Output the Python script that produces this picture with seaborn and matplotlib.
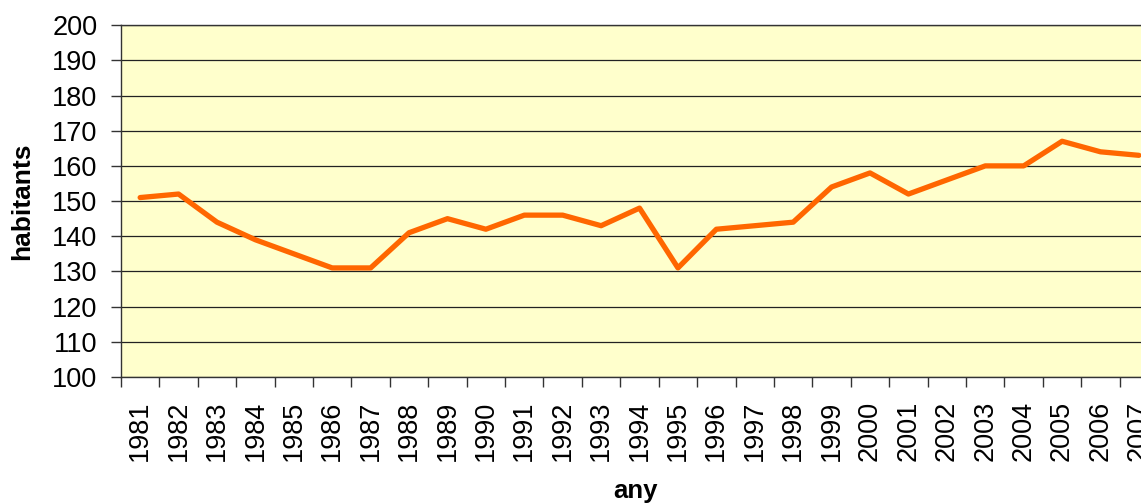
import pandas as pd
import matplotlib
matplotlib.use('Agg')
import matplotlib.pyplot as plt
import seaborn as sns

# Dades
anys = [str(a) for a in range(1981, 2008)]
habitants = [151, 152, 144, 139, 135, 131, 131, 141, 145, 142,
             146, 146, 143, 148, 131, 142, 143, 144, 154, 158,
             152, 156, 160, 160, 167, 164, 163]
yticks = list(range(100, 201, 10))

df = pd.DataFrame({'any': anys, 'habitants': habitants})

sns.set_style('white', {'text.color': 'black', 'xtick.color': 'black',
                        'ytick.color': 'black', 'axes.labelcolor': 'black'})
plt.rcParams['font.family'] = ['Liberation Sans', 'DejaVu Sans']

fig = plt.figure(figsize=(11.41, 5.03), dpi=100)
ax = fig.add_axes([0.106, 0.2505, 0.909, 0.6995])
ax.set_facecolor('#FFFFCC')

sns.lineplot(data=df, x='any', y='habitants', color='#FF6600', linewidth=3.8,
             sort=False, ax=ax)

ax.set_xlim(-0.5, len(anys) - 0.5)
ax.set_ylim(100, 200)
ax.set_yticks(yticks)
ax.set_xticks([i - 0.5 for i in range(len(anys) + 1)], minor=False)
ax.set_xticklabels([])
ax.set_xticks(range(len(anys)), minor=True)
ax.set_xticklabels(anys, minor=True, rotation=90, fontsize=19.5)
ax.tick_params(axis='x', which='major', direction='out', length=7, width=1,
               color='#333333', bottom=True)
ax.tick_params(axis='x', which='minor', length=0, pad=17, labelcolor='black')
ax.tick_params(axis='y', direction='out', length=7, width=1, color='#333333',
               labelsize=19.5, labelcolor='black', left=True, pad=10)

ax.yaxis.grid(True, color='#222222', linewidth=0.9)
ax.set_axisbelow(True)
for s in ['top', 'left', 'bottom']:
    ax.spines[s].set_color('#333333')
    ax.spines[s].set_linewidth(1)
ax.spines['right'].set_visible(False)

ax.set_xlabel('any', fontsize=18.5, fontweight='bold', color='black')
ax.set_ylabel('habitants', fontsize=19, fontweight='bold', color='black')
ax.xaxis.set_label_coords(0.496, -0.29)
ax.yaxis.set_label_coords(-0.0835, 0.5)

fig.savefig('out.png', dpi=100)
